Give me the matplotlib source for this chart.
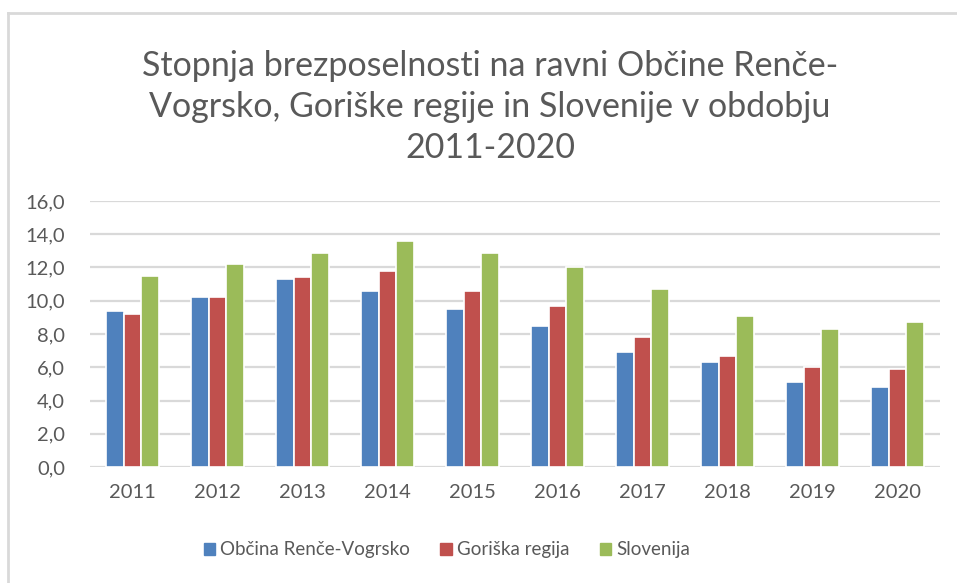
import numpy as np
import matplotlib.pyplot as plt
from matplotlib.lines import Line2D

plt.rcParams['font.family'] = ['Lato', 'DejaVu Sans']

years = ['2011', '2012', '2013', '2014', '2015', '2016', '2017', '2018', '2019', '2020']
renče = [9.4, 10.2, 11.3, 10.6, 9.5, 8.5, 6.9, 6.3, 5.1, 4.8]
goriska = [9.2, 10.2, 11.4, 11.8, 10.6, 9.7, 7.8, 6.7, 6.0, 5.9]
slovenija = [11.5, 12.2, 12.9, 13.6, 12.9, 12.0, 10.7, 9.1, 8.3, 8.7]

series_names = ['Občina Renče-Vogrsko', 'Goriška regija', 'Slovenija']
colors = ['#4F81BD', '#C0504D', '#9BBB59']
grey = '#595959'

fig = plt.figure(figsize=(9.57, 5.83), dpi=100)
ax = fig.add_axes([90/957, 1-467/583, 850/957, 266/583])

x = np.arange(len(years))
w = 0.207
for i, (vals, c, name) in enumerate(zip([renče, goriska, slovenija], colors, series_names)):
    ax.bar(x + (i-1)*w, vals, w, color=c, edgecolor='white', linewidth=1.2, label=name, zorder=3)

ax.set_xlim(-0.5, len(years)-0.5)
ax.set_ylim(0, 16)
ax.set_yticks(np.arange(0, 17, 2))
ax.set_yticklabels([f'{v:.1f}'.replace('.', ',') for v in np.arange(0, 17, 2)])
ax.set_xticks(x)
ax.set_xticklabels(years)
ax.tick_params(length=0, labelsize=14.5, colors=grey, pad=12)
ax.tick_params(axis='y', pad=18)
ax.grid(axis='y', color='#d9d9d9', linewidth=1.6, zorder=0)
for s in ax.spines.values():
    s.set_visible(False)

fig.text(490/957, 1-107/583,
         'Stopnja brezposelnosti na ravni Občine Renče-\nVogrsko, Goriške regije in Slovenije v obdobju\n2011-2020',
         ha='center', va='center', fontsize=24.5, color=grey, linespacing=1.33)

handles = [plt.Rectangle((0, 0), 1, 1, color=c) for c in colors]
fig.legend(handles, series_names, loc='center', bbox_to_anchor=(447/957, 1-550/583),
           ncol=3, frameon=False, fontsize=13.5, labelcolor=grey,
           handlelength=0.6, handleheight=0.6, handletextpad=0.3, columnspacing=1.6)

# chart border (top and left only visible in the crop)
fig.add_artist(Line2D([8/957, 1], [1-13/583, 1-13/583], color='#d9d9d9', lw=2))
fig.add_artist(Line2D([8/957, 8/957], [0, 1-13/583], color='#d9d9d9', lw=2))

fig.savefig('out.png', dpi=100)
